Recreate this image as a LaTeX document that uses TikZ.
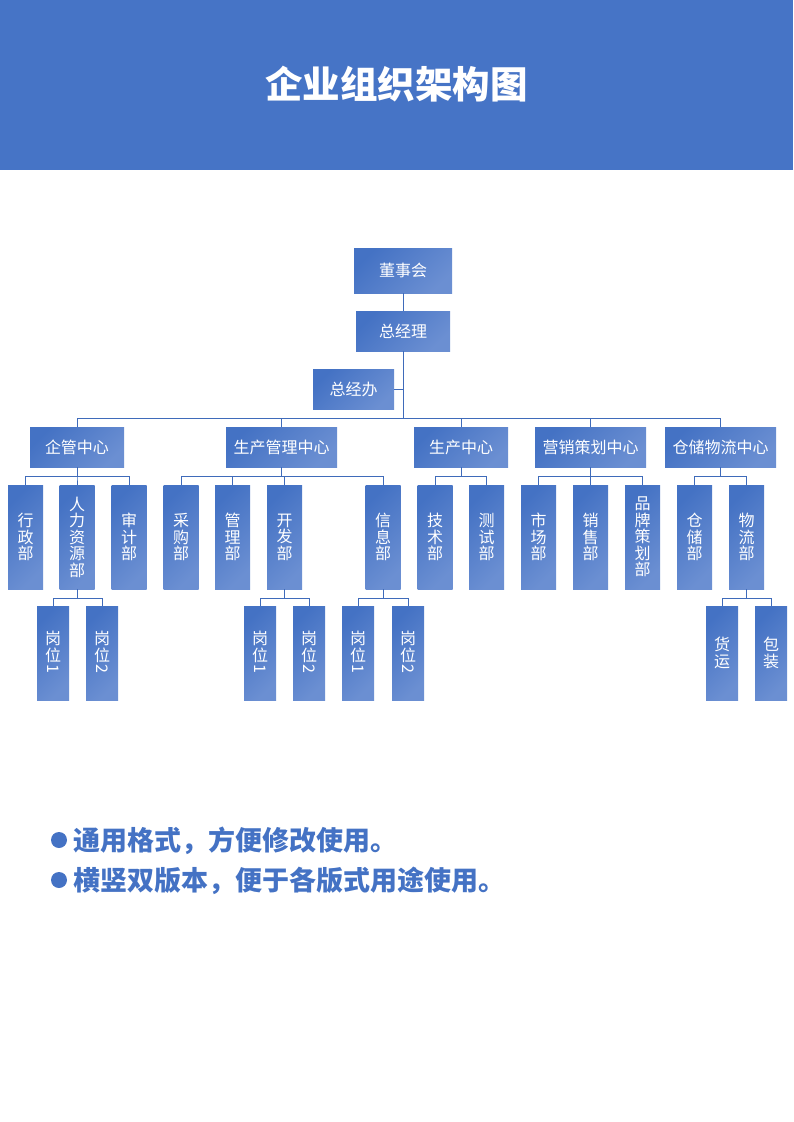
\documentclass[tikz,border=0pt]{standalone}
\usepackage{fontspec}
\setmainfont{Noto Sans CJK SC}
\usepackage{graphicx}
\definecolor{hdr}{HTML}{4674C6}
\definecolor{ca}{HTML}{4472C4}
\definecolor{cb}{HTML}{6B8FD2}
\definecolor{lc}{HTML}{3F6BBA}
\newcommand{\rdig}[1]{\rotatebox[origin=c]{-90}{#1}}
\tikzset{
  box/.style={rectangle, inner sep=0pt, top color=ca, bottom color=cb, shading angle=45,
    text=white, font=\fontsize{16}{16.5}\selectfont, align=center},
  hbox/.style={box, minimum height=40pt},
  vbox/.style={box, minimum width=35pt, minimum height=104pt},
  pbox/.style={box, minimum width=32pt, minimum height=94pt},
  conn/.style={draw=lc, line width=0.9pt},
}
\begin{document}
\begin{tikzpicture}[x=1pt,y=-1pt]
\useasboundingbox (0,0) rectangle (793,1122);
\fill[hdr] (0,0) rectangle (793,170);
\node[text=white, font=\fontsize{37.5}{40}\selectfont\bfseries] (title) at (396.5,84) {企业组织架构图};

% level 1
\node[hbox, minimum width=98pt, minimum height=45pt] (dsh) at (403,270.5) {董事会};
\node[hbox, minimum width=94pt] (zjl) at (403,331) {总经理};
\node[hbox, minimum width=81pt] (zjb) at (353.5,389) {总经办};

% level 2
\node[hbox, minimum width=94pt] (qg) at (77,447) {企管中心};
\node[hbox, minimum width=111pt] (scgl) at (281.5,447) {生产管理中心};
\node[hbox, minimum width=94pt] (sc) at (461,447) {生产中心};
\node[hbox, minimum width=111pt] (yx) at (590.5,447) {营销策划中心};
\node[hbox, minimum width=111pt] (cc) at (720.5,447) {仓储物流中心};

% level 3
\node[vbox] (xz) at (25.5,537) {行\\政\\部};
\node[vbox] (rl) at (77,537) {人\\力\\资\\源\\部};
\node[vbox] (sj) at (129,537) {审\\计\\部};
\node[vbox] (cg) at (181,537) {采\\购\\部};
\node[vbox] (gl) at (232.5,537) {管\\理\\部};
\node[vbox] (kf) at (284.5,537) {开\\发\\部};
\node[vbox] (xx) at (383,537) {信\\息\\部};
\node[vbox] (js) at (435,537) {技\\术\\部};
\node[vbox] (cs) at (486.5,537) {测\\试\\部};
\node[vbox] (scb) at (538.5,537) {市\\场\\部};
\node[vbox] (xs) at (590.5,537) {销\\售\\部};
\node[vbox] (pp) at (642.5,537) {品\\牌\\策\\划\\部};
\node[vbox] (ccb) at (694.5,537) {仓\\储\\部};
\node[vbox] (wl) at (746.5,537) {物\\流\\部};

% level 4
\node[pbox] (ga1) at (53,653) {岗\\位\\[-3pt]\rdig{1}};
\node[pbox] (ga2) at (102,653) {岗\\位\\[-3pt]\rdig{2}};
\node[pbox] (gb1) at (260,653) {岗\\位\\[-3pt]\rdig{1}};
\node[pbox] (gb2) at (309,653) {岗\\位\\[-3pt]\rdig{2}};
\node[pbox] (gc1) at (358,653) {岗\\位\\[-3pt]\rdig{1}};
\node[pbox] (gc2) at (408,653) {岗\\位\\[-3pt]\rdig{2}};
\node[pbox] (hy) at (722,653) {货\\运};
\node[pbox] (bz) at (771,653) {包\\装};

% connectors level 1
\draw[conn] (dsh.south) -- (zjl.north);
\draw[conn] (zjb.east) -- (zjb.east -| zjl.south);
\foreach \t in {qg,scgl,sc,yx,cc}{
  \draw[conn] (zjl.south) -- ++(0,67) -| (\t.north);
}
% connectors level 2 -> 3
\foreach \t in {xz,rl,sj}{\draw[conn] (qg.south) -- ++(0,9) -| (\t.north);}
\foreach \t in {cg,gl,kf,xx}{\draw[conn] (scgl.south) -- ++(0,9) -| (\t.north);}
\foreach \t in {js,cs}{\draw[conn] (sc.south) -- ++(0,9) -| (\t.north);}
\foreach \t in {scb,xs,pp}{\draw[conn] (yx.south) -- ++(0,9) -| (\t.north);}
\foreach \t in {ccb,wl}{\draw[conn] (cc.south) -- ++(0,9) -| (\t.north);}
% connectors level 3 -> 4
\foreach \t in {ga1,ga2}{\draw[conn] (rl.south) -- ++(0,9) -| (\t.north);}
\foreach \t in {gb1,gb2}{\draw[conn] (kf.south) -- ++(0,9) -| (\t.north);}
\foreach \t in {gc1,gc2}{\draw[conn] (xx.south) -- ++(0,9) -| (\t.north);}
\foreach \t in {hy,bz}{\draw[conn] (wl.south) -- ++(0,9) -| (\t.north);}

% bullets
\fill[ca] (59,840) circle (8);
\node[anchor=west, text=ca, font=\fontsize{27}{29}\selectfont\bfseries, inner sep=0pt] (b1) at (73,841) {通用格式，方便修改使用。};
\fill[ca] (59,880) circle (8);
\node[anchor=west, text=ca, font=\fontsize{27}{29}\selectfont\bfseries, inner sep=0pt] (b2) at (73,881) {横竖双版本，便于各版式用途使用。};
\end{tikzpicture}
\end{document}
